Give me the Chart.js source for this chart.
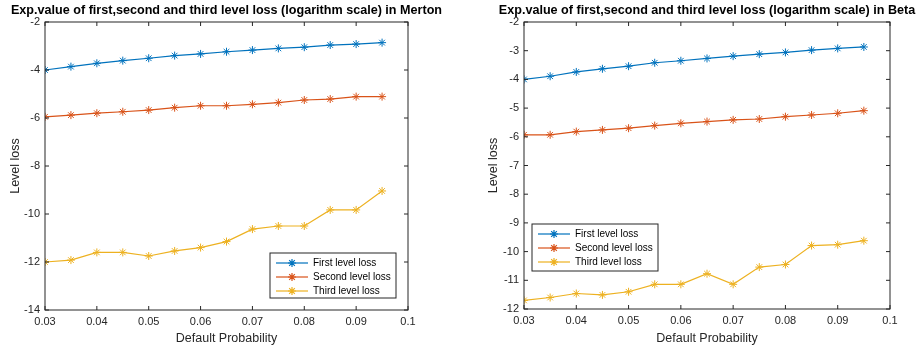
<!DOCTYPE html>
<html>
<head>
<meta charset="utf-8">
<title>Level loss</title>
<script src="https://cdn.jsdelivr.net/npm/chart.js@4/dist/chart.umd.min.js"></script>
<style>
    html, body { margin: 0; padding: 0; background: #fff; }
    #wrap { position: relative; width: 919px; height: 351px; }
    .panel { position: absolute; top: 0; height: 351px; }
    #mertonPanel { left: 0; width: 460px; }
    #betaPanel { left: 460px; width: 459px; }
</style>
</head>
<body>
<div id="wrap">
    <div class="panel" id="mertonPanel"><canvas id="mertonChart"></canvas></div>
    <div class="panel" id="betaPanel"><canvas id="betaChart"></canvas></div>
</div>
<script>
// =====================
// Data
// =====================
const defaultProb = [0.03, 0.035, 0.04, 0.045, 0.05, 0.055, 0.06, 0.065, 0.07, 0.075, 0.08, 0.085, 0.09, 0.095];

const mertonFirst = [-4.00, -3.86, -3.72, -3.61, -3.51, -3.40, -3.33, -3.24, -3.17, -3.10, -3.05, -2.96, -2.92, -2.86];
const mertonSecond = [-5.95, -5.88, -5.80, -5.74, -5.67, -5.57, -5.49, -5.49, -5.43, -5.36, -5.25, -5.21, -5.11, -5.11];
const mertonThird = [-12.00, -11.92, -11.60, -11.60, -11.75, -11.54, -11.40, -11.15, -10.63, -10.50, -10.50, -9.83, -9.83, -9.04];

const betaFirst = [-4.00, -3.89, -3.74, -3.63, -3.54, -3.42, -3.35, -3.27, -3.19, -3.12, -3.06, -2.98, -2.92, -2.87];
const betaSecond = [-5.93, -5.93, -5.82, -5.76, -5.70, -5.61, -5.53, -5.47, -5.41, -5.38, -5.30, -5.24, -5.18, -5.09];
const betaThird = [-11.70, -11.60, -11.46, -11.51, -11.40, -11.14, -11.14, -10.77, -11.14, -10.54, -10.45, -9.79, -9.76, -9.62];

const xTicks = [0.03, 0.04, 0.05, 0.06, 0.07, 0.08, 0.09, 0.1];
const mertonYTicks = [-14, -12, -10, -8, -6, -4, -2];
const betaYTicks = [-12, -11, -10, -9, -8, -7, -6, -5, -4, -3, -2];

const seriesNames = ["First level loss", "Second level loss", "Third level loss"];
const seriesColors = ["#0072BD", "#D95319", "#EDB120"];

const FONT = "'Liberation Sans', Arial, Helvetica, sans-serif";
const AXIS_COLOR = "#262626";

// =====================
// Box, inward ticks, title and legend (MATLAB look)
// =====================
const matlabAxes = {
    id: "matlabAxes",
    afterDatasetsDraw(chart, args, opts) {
        const { ctx, chartArea: a, scales } = chart;
        ctx.save();
        ctx.strokeStyle = AXIS_COLOR;
        ctx.lineWidth = 1;
        ctx.strokeRect(a.left, a.top, a.right - a.left, a.bottom - a.top);

        ctx.beginPath();
        scales.x.ticks.forEach(t => {
            const px = scales.x.getPixelForValue(t.value);
            ctx.moveTo(px, a.bottom);
            ctx.lineTo(px, a.bottom - 4);
            ctx.moveTo(px, a.top);
            ctx.lineTo(px, a.top + 4);
        });
        scales.y.ticks.forEach(t => {
            const py = scales.y.getPixelForValue(t.value);
            ctx.moveTo(a.left, py);
            ctx.lineTo(a.left + 4, py);
            ctx.moveTo(a.right, py);
            ctx.lineTo(a.right - 4, py);
        });
        ctx.stroke();

        ctx.fillStyle = "#000";
        ctx.font = "bold 12.6px " + FONT;
        ctx.textAlign = "center";
        ctx.textBaseline = "middle";
        ctx.fillText(opts.title, (a.left + a.right) / 2, 11);
        ctx.restore();
    },
    afterDraw(chart, args, opts) {
        const { ctx } = chart;
        const box = opts.legendBox;
        ctx.save();
        ctx.fillStyle = "#fff";
        ctx.fillRect(box.x, box.y, box.w, box.h);
        ctx.strokeStyle = AXIS_COLOR;
        ctx.lineWidth = 1;
        ctx.strokeRect(box.x, box.y, box.w, box.h);

        ctx.font = "10px " + FONT;
        ctx.textBaseline = "middle";
        ctx.textAlign = "left";
        chart.data.datasets.forEach((ds, i) => {
            const y = box.y + 10 + i * 14;
            const x0 = box.x + 6;
            ctx.strokeStyle = ds.borderColor;
            ctx.fillStyle = ds.borderColor;
            ctx.lineWidth = ds.borderWidth;
            ctx.beginPath();
            ctx.moveTo(x0, y);
            ctx.lineTo(x0 + 32, y);
            ctx.stroke();
            Chart.helpers.drawPoint(ctx, { pointStyle: "star", radius: 4, borderWidth: 1, rotation: 0 }, x0 + 16, y);
            ctx.fillStyle = "#000";
            ctx.fillText(ds.label, x0 + 37, y);
        });
        ctx.restore();
    }
};

// =====================
// Chart builder
// =====================
function makeSeries(values, i) {
    return {
        label: seriesNames[i],
        data: defaultProb.map((p, k) => ({ x: p, y: values[k] })),
        borderColor: seriesColors[i],
        backgroundColor: seriesColors[i],
        borderWidth: 1.2,
        pointStyle: "star",
        pointRadius: 4,
        pointBorderWidth: 1,
        pointHoverRadius: 4,
        tension: 0
    };
}

function makeChart(canvasId, title, series, yTicks, layout) {
    const ctx = document.getElementById(canvasId).getContext("2d");
    return new Chart(ctx, {
        type: "line",
        data: { datasets: series.map(makeSeries) },
        options: {
            responsive: true,
            maintainAspectRatio: false,
            animation: false,
            layout: { padding: { left: 0, right: layout.right, top: 22, bottom: 0 } },
            plugins: {
                legend: { display: false },
                tooltip: { enabled: false },
                matlabAxes: { title, legendBox: layout.legendBox }
            },
            scales: {
                x: {
                    type: "linear",
                    min: xTicks[0],
                    max: xTicks[xTicks.length - 1],
                    afterBuildTicks: s => { s.ticks = xTicks.map(v => ({ value: v })); },
                    afterFit: s => { s.height = layout.xHeight; },
                    grid: { display: false, drawTicks: false },
                    border: { display: false },
                    ticks: {
                        padding: 5,
                        maxRotation: 0,
                        color: AXIS_COLOR,
                        font: { family: FONT, size: 11 },
                        callback: v => String(Number(v.toFixed(2)))
                    },
                    title: {
                        display: true,
                        text: "Default Probability",
                        color: AXIS_COLOR,
                        font: { family: FONT, size: 12.5 },
                        padding: { top: 0, bottom: 5 }
                    }
                },
                y: {
                    type: "linear",
                    min: yTicks[0],
                    max: yTicks[yTicks.length - 1],
                    afterBuildTicks: s => { s.ticks = yTicks.map(v => ({ value: v })); },
                    afterFit: s => { s.width = layout.yWidth; },
                    grid: { display: false, drawTicks: false },
                    border: { display: false },
                    ticks: {
                        padding: 5,
                        color: AXIS_COLOR,
                        font: { family: FONT, size: 11 }
                    },
                    title: {
                        display: true,
                        text: "Level loss",
                        color: AXIS_COLOR,
                        font: { family: FONT, size: 12.5 },
                        padding: { top: layout.yTitlePad, bottom: 0 }
                    }
                }
            }
        },
        plugins: [matlabAxes]
    });
}

// =====================
// Draw both panels
// =====================
makeChart(
    "mertonChart",
    "Exp.value of first,second and third level loss (logarithm scale) in Merton",
    [mertonFirst, mertonSecond, mertonThird],
    mertonYTicks,
    { right: 52, xHeight: 41, yWidth: 45, yTitlePad: 8, legendBox: { x: 270, y: 253, w: 126, h: 45 } }
);

makeChart(
    "betaChart",
    "Exp.value of first,second and third level loss (logarithm scale) in Beta",
    [betaFirst, betaSecond, betaThird],
    betaYTicks,
    { right: 29, xHeight: 42, yWidth: 64, yTitlePad: 26, legendBox: { x: 72, y: 224, w: 126, h: 47 } }
);
</script>
</body>
</html>
